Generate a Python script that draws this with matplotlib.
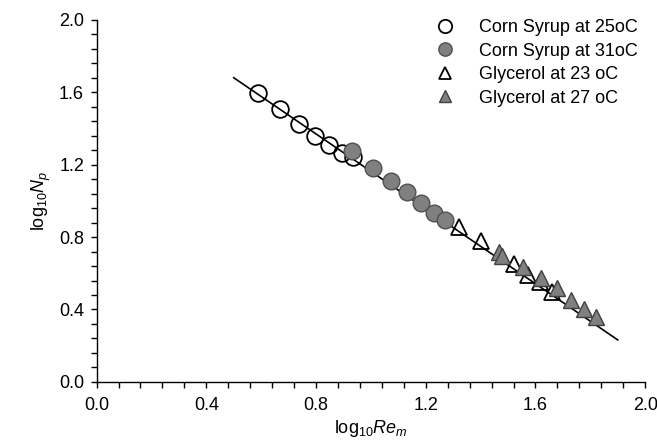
import numpy as np
import matplotlib
matplotlib.use("Agg")
import matplotlib.pyplot as plt
from matplotlib.ticker import MultipleLocator, FormatStrFormatter

plt.rcParams["font.family"] = ["Liberation Sans", "DejaVu Sans"]
plt.rcParams["mathtext.fontset"] = "custom"
plt.rcParams["mathtext.rm"] = "Liberation Sans"
plt.rcParams["mathtext.it"] = "Liberation Sans:italic"

# --------------------------------------------------
# Data (log10 Re_m, log10 N_p)
# --------------------------------------------------
cs25_x = [0.590, 0.669, 0.737, 0.795, 0.847, 0.895, 0.935]
cs25_y = [1.595, 1.507, 1.425, 1.359, 1.308, 1.264, 1.241]

cs31_x = [0.930, 1.006, 1.073, 1.131, 1.183, 1.229, 1.272]
cs31_y = [1.278, 1.181, 1.107, 1.051, 0.987, 0.935, 0.895]

gl23_x = [1.321, 1.402, 1.523, 1.574, 1.618, 1.659]
gl23_y = [0.856, 0.779, 0.652, 0.591, 0.552, 0.497]

gl27_x = [1.468, 1.479, 1.556, 1.622, 1.677, 1.728, 1.776, 1.820]
gl27_y = [0.718, 0.696, 0.635, 0.575, 0.519, 0.453, 0.403, 0.359]

# power-law fit line
fit_x = [0.50, 1.90]
fit_y = [1.680, 0.232]

fig = plt.figure(figsize=(6.57, 4.40), dpi=100)
ax = fig.add_axes([0.147, 0.132, 0.835, 0.823])

ax.plot(fit_x, fit_y, color="black", lw=1.2, zorder=1)

ax.plot(cs25_x, cs25_y, "o", ms=12, mfc="none", mec="black", mew=1.3,
        label="Corn Syrup at 25oC", zorder=2)
ax.plot(cs31_x, cs31_y, "o", ms=12, mfc="#808080", mec="#505050", mew=1.0,
        label="Corn Syrup at 31oC", zorder=3)
ax.plot(gl23_x, gl23_y, "^", ms=11, mfc="none", mec="black", mew=1.3,
        label="Glycerol at 23 oC", zorder=2)
ax.plot(gl27_x, gl27_y, "^", ms=11, mfc="#808080", mec="#404040", mew=1.0,
        label="Glycerol at 27 oC", zorder=3)

ax.set_xlim(0, 2.0)
ax.set_ylim(0, 2.0)
ax.xaxis.set_major_locator(MultipleLocator(0.4))
ax.xaxis.set_minor_locator(MultipleLocator(0.08))
ax.yaxis.set_major_locator(MultipleLocator(0.4))
ax.yaxis.set_minor_locator(MultipleLocator(0.08))
ax.xaxis.set_major_formatter(FormatStrFormatter("%.1f"))
ax.yaxis.set_major_formatter(FormatStrFormatter("%.1f"))

for s in ["top", "right"]:
    ax.spines[s].set_visible(False)
for s in ["left", "bottom"]:
    ax.spines[s].set_linewidth(1.0)

ax.tick_params(which="both", direction="out", length=4, width=1.0,
               labelsize=13, colors="black")
ax.tick_params(axis="x", pad=7)
ax.tick_params(axis="y", pad=5)

ax.set_xlabel(r"log$_{10}$$\mathit{Re_m}$", fontsize=13, labelpad=3)
ax.set_ylabel(r"log$_{10}$$\mathit{N_p}$", fontsize=13, labelpad=4)

ax.legend(loc="upper right", frameon=False, fontsize=13, markerscale=0.8,
          handlelength=1.0, handletextpad=1.4, labelspacing=0.36,
          borderaxespad=0.0, bbox_to_anchor=(1.0, 1.022))

fig.savefig("out.png", dpi=100)
